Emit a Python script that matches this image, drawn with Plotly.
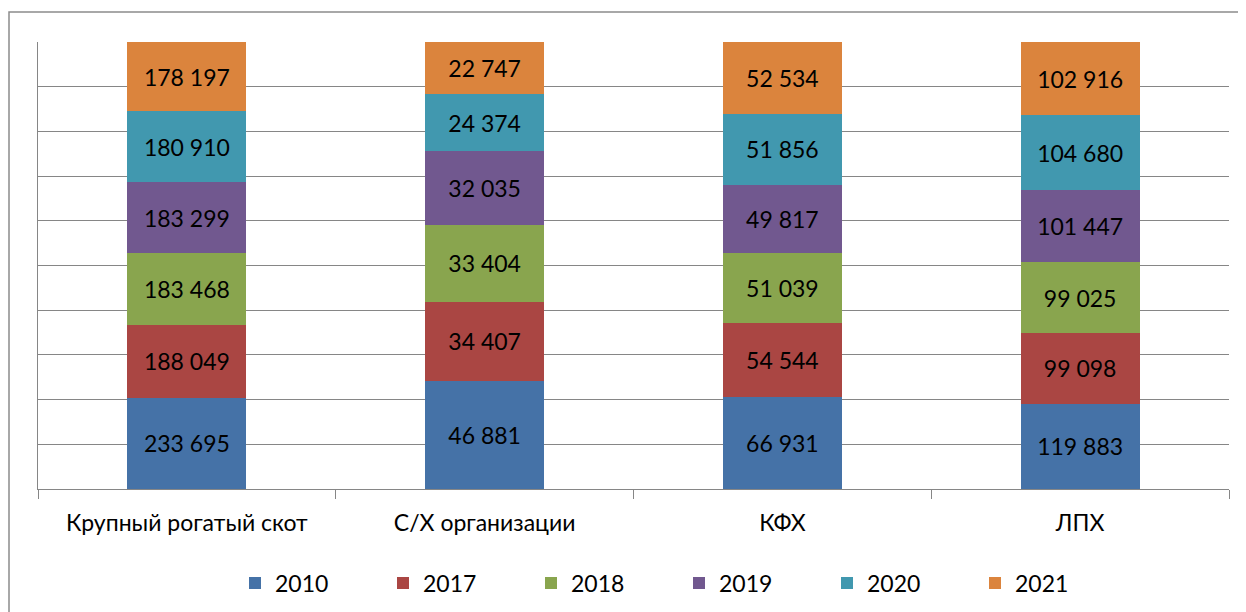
import plotly.graph_objects as go

categories = ["Крупный рогатый скот", "С/Х организации", "КФХ", "ЛПХ"]
years = ["2010", "2017", "2018", "2019", "2020", "2021"]
v2010 = [233695, 46881, 66931, 119883]
v2017 = [188049, 34407, 54544, 99098]
v2018 = [183468, 33404, 51039, 99025]
v2019 = [183299, 32035, 49817, 101447]
v2020 = [180910, 24374, 51856, 104680]
v2021 = [178197, 22747, 52534, 102916]
series = [v2010, v2017, v2018, v2019, v2020, v2021]
colors = ["#4572A7", "#AA4643", "#89A54E", "#71588F", "#4198AF", "#DB843D"]

FONT = "Lato, Carlito, 'Liberation Sans', sans-serif"

def fmt(v):
    return f"{v:,}".replace(",", " ")

fig = go.Figure()
for name, vals, col in zip(years, series, colors):
    fig.add_trace(go.Bar(
        x=categories, y=vals, name=name,
        marker=dict(color=col, line=dict(width=0)),
        text=[fmt(v) for v in vals],
        textposition="inside", insidetextanchor="middle",
        textangle=0, constraintext="none",
        textfont=dict(family=FONT, size=23, color="black"),
        hoverinfo="skip",
    ))

W, H = 1246, 612
# page body has an 8px offset
L, R, T, B = 30, 25, 34, 131
pw = W - L - R
ph = H - T - B

fig.update_layout(
    width=W, height=H,
    barmode="stack", barnorm="percent", bargap=0.6,
    margin=dict(l=L, r=R, t=T, b=B),
    paper_bgcolor="white", plot_bgcolor="white",
    font=dict(family=FONT, size=23, color="black"),
    showlegend=True,
    legend=dict(
        orientation="h", x=(227 - L) / pw, xanchor="left",
        y=-(575 - (T + ph)) / ph, yanchor="middle",
        entrywidth=103, entrywidthmode="pixels",
        font=dict(family=FONT, size=23, color="black"),
        traceorder="normal", bgcolor="rgba(0,0,0,0)",
    ),
    xaxis=dict(
        showline=True, linecolor="#868686", linewidth=1.4,
        ticks="outside", tickson="boundaries", ticklen=9,
        tickcolor="#868686", tickwidth=1.4,
        showgrid=False, ticklabelstandoff=13,
        tickfont=dict(family=FONT, size=23, color="black"),
    ),
    yaxis=dict(
        range=[0, 100], dtick=10, showticklabels=False,
        showgrid=True, gridcolor="#868686", gridwidth=1.4,
        showline=True, linecolor="#868686", linewidth=1.4,
        zeroline=False, ticks="",
    ),
    shapes=[dict(
        type="rect", xref="paper", yref="paper",
        x0=(1 - L) / pw, x1=(1252 - L) / pw,
        y0=-(620 - (T + ph)) / ph, y1=1 + (T - 4) / ph,
        line=dict(color="#8c8c8c", width=1.5), fillcolor="rgba(0,0,0,0)",
        layer="below",
    )],
)

fig.write_html("out.html")
